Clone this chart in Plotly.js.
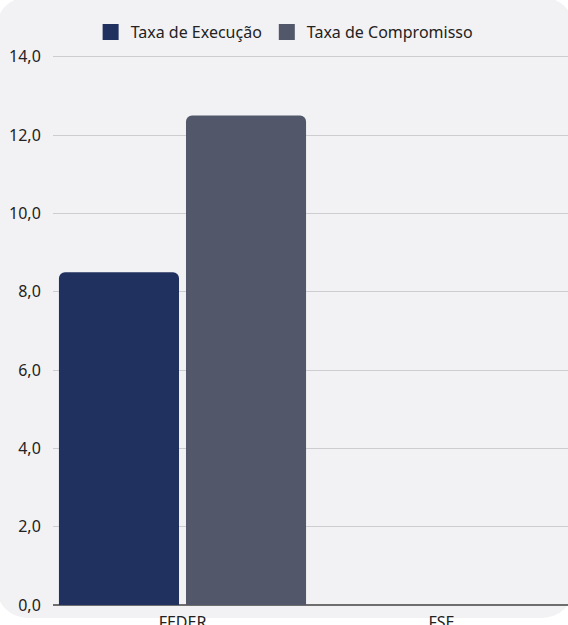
<!DOCTYPE html>
<html>
<head>
<meta charset="utf-8">
<script src="https://cdn.plot.ly/plotly-3.0.1.min.js"></script>
<style>
  html, body { margin: 0; padding: 0; width: 568px; height: 625px; overflow: hidden; background: #ffffff; }
  #bg { position: absolute; left: -4px; top: -3px; width: 578px; height: 621px; border-radius: 32px; background: #f2f2f4; }
  #chart { position: absolute; left: 0; top: 0; width: 575px; height: 625px; }
</style>
</head>
<body>
<div id="bg"></div>
<div id="chart"></div>
<script>
const categories = ['FEDER', 'FSE'];
const seriesNames = ['Taxa de Execução', 'Taxa de Compromisso'];
const taxaExecucao = [8.5, 0];
const taxaCompromisso = [12.5, 0];
const seriesColors = ['#20305f', '#525869'];
const yTicks = [0, 2, 4, 6, 8, 10, 12, 14];

const fontFamily = '"Noto Sans", "Open Sans", sans-serif';

const traces = [
  {
    type: 'bar', x: categories, y: taxaExecucao, name: seriesNames[0],
    marker: { color: seriesColors[0], cornerradius: 6 }, showlegend: false, hoverinfo: 'skip'
  },
  {
    type: 'bar', x: categories, y: taxaCompromisso, name: seriesNames[1],
    marker: { color: seriesColors[1], cornerradius: 6 }, showlegend: false, hoverinfo: 'skip'
  },
  {
    type: 'scatter', mode: 'markers', x: [null], y: [null], name: seriesNames[0],
    marker: { symbol: 'square', size: 16, color: seriesColors[0] }, hoverinfo: 'skip'
  },
  {
    type: 'scatter', mode: 'markers', x: [null], y: [null], name: seriesNames[1],
    marker: { symbol: 'square', size: 16, color: seriesColors[1] }, hoverinfo: 'skip'
  }
];

const layout = {
  width: 575,
  height: 625,
  margin: { l: 53, r: 4, t: 49, b: 20 },
  paper_bgcolor: 'rgba(0,0,0,0)',
  plot_bgcolor: 'rgba(0,0,0,0)',
  separators: ', ',
  font: { family: fontFamily, size: 16, color: '#222222' },
  barmode: 'group',
  bargap: 0.019,
  bargroupgap: 0.055,
  showlegend: true,
  legend: {
    orientation: 'h',
    xref: 'container', yref: 'container',
    x: 0.495, xanchor: 'center',
    y: 1 - 32 / 625, yanchor: 'middle',
    font: { family: fontFamily, size: 16, color: '#222222' },
    bgcolor: 'rgba(0,0,0,0)',
    itemclick: false, itemdoubleclick: false
  },
  xaxis: {
    type: 'category',
    categoryorder: 'array',
    categoryarray: categories,
    showgrid: false,
    showline: false,
    zeroline: false,
    ticks: 'outside',
    ticklen: 3,
    tickcolor: 'rgba(0,0,0,0)',
    tickfont: { family: fontFamily, size: 16, color: '#222222' },
    fixedrange: true
  },
  yaxis: {
    range: [0, 14.2],
    tickvals: yTicks,
    tickformat: '.1f',
    showgrid: true,
    gridcolor: '#cdcdd1',
    gridwidth: 1,
    zeroline: true,
    zerolinecolor: '#6e6e6e',
    zerolinewidth: 1.5,
    showline: false,
    ticks: 'outside',
    ticklen: 8,
    tickcolor: 'rgba(0,0,0,0)',
    tickfont: { family: fontFamily, size: 16, color: '#222222' },
    fixedrange: true
  },
  hovermode: false
};

Plotly.newPlot('chart', traces, layout, { displayModeBar: false, staticPlot: true });
</script>
</body>
</html>
